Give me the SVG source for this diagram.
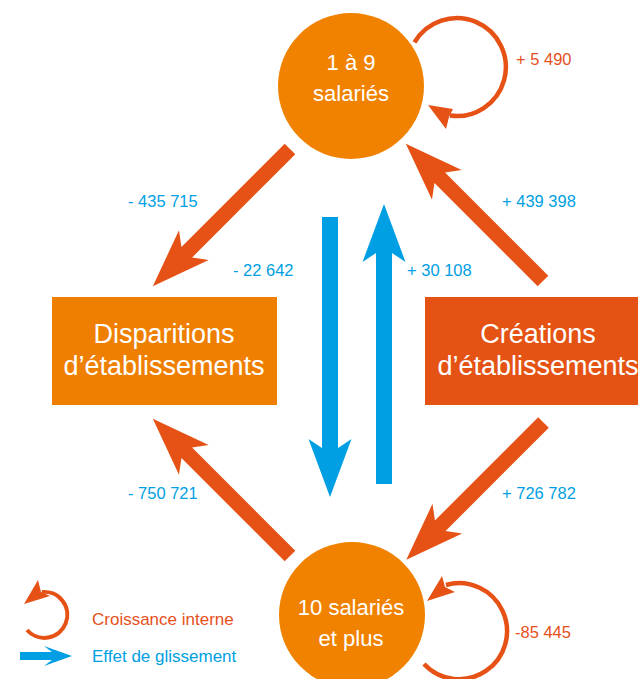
<svg xmlns="http://www.w3.org/2000/svg" xmlns:xlink="http://www.w3.org/1999/xlink" width="638" height="679" viewBox="0 0 638 679">
<style>
.circ{fill:#F08200}
.lbl{font-family:"Liberation Sans",Arial,sans-serif;fill:#fff;text-anchor:middle}
.num{font-family:"Liberation Sans",Arial,sans-serif;font-size:16.5px;fill:#009FE3}
.red{fill:#E6501A}
.oarr{fill:#E65216}
.barr{fill:#009FE3}
.loop{fill:none;stroke:#E65216;stroke-width:4.5}
.leg{font-family:"Liberation Sans",Arial,sans-serif;font-size:17px}
</style>
<defs>
<path id="oa" d="M0,-7.5 H146 L136,-21 L194,0 L136,21 L146,7.5 H0 Z"/>
<path id="ba" d="M0,-8 H231 L222,-21.5 L280,0 L222,21.5 L231,8 H0 Z"/>
</defs>
<rect width="638" height="679" fill="#fff"/>
<g id="connectors">
<use xlink:href="#oa" class="oarr" transform="translate(290,149) rotate(135)"/>
<use xlink:href="#oa" class="oarr" transform="translate(543,281) rotate(225)"/>
<use xlink:href="#oa" class="oarr" transform="translate(290,556) rotate(225)"/>
<use xlink:href="#oa" class="oarr" transform="translate(543.5,422.5) rotate(135)"/>
<use xlink:href="#ba" class="barr" transform="translate(330,217) rotate(90)"/>
<use xlink:href="#ba" class="barr" transform="translate(384,484) rotate(-90)"/>
<path class="loop" d="M414.5,42.4 A49,49 0 1 1 450,115.6"/>
<polygon class="oarr" points="428,105 453,109 449,117 446,129"/>
<path class="loop" d="M424,664 A48,48 0 1 0 446,585"/>
<polygon class="oarr" points="427,601 442,576 445,587 455,592"/>
</g>
<g id="n-small">
<circle class="circ" cx="351" cy="86" r="73"/>
<text class="lbl" x="351" y="70" font-size="22">1 à 9</text>
<text class="lbl" x="351" y="101" font-size="22">salariés</text>
</g>
<g id="n-large">
<circle class="circ" cx="352" cy="615" r="73"/>
<text class="lbl" x="351" y="615" font-size="22">10 salariés</text>
<text class="lbl" x="351" y="646" font-size="22">et plus</text>
</g>
<g id="n-disparitions">
<rect x="52" y="297" width="225" height="108" fill="#EF7F00"/>
<text class="lbl" x="164" y="343" font-size="27">Disparitions</text>
<text class="lbl" x="164" y="375" font-size="27">d’établissements</text>
</g>
<g id="n-creations">
<rect x="425" y="297" width="213" height="108" fill="#E55314"/>
<text class="lbl" x="538" y="343" font-size="27">Créations</text>
<text class="lbl" x="538" y="375" font-size="27">d’établissements</text>
</g>
<g id="labels">
<text class="num" x="128" y="207">- 435 715</text>
<text class="num" x="502" y="207">+ 439 398</text>
<text class="num" x="233" y="276">- 22 642</text>
<text class="num" x="407" y="276">+ 30 108</text>
<text class="num" x="128" y="499">- 750 721</text>
<text class="num" x="502" y="499">+ 726 782</text>
<text class="num red" x="516" y="65">+ 5 490</text>
<text class="num red" x="515" y="638">-85 445</text>
</g>
<g id="legend">
<path class="loop" style="stroke-width:4" d="M42,592 A23,23 0 1 1 27,630"/>
<polygon class="oarr" points="24,604 38,580 41,592 50,596"/>
<path class="barr" d="M20,652 H52 L44,646 L72,656 L44,666 L52,660 H20 Z"/>
<text class="leg red" x="92" y="625">Croissance interne</text>
<text class="leg barr" x="92" y="662">Effet de glissement</text>
</g>
</svg>
